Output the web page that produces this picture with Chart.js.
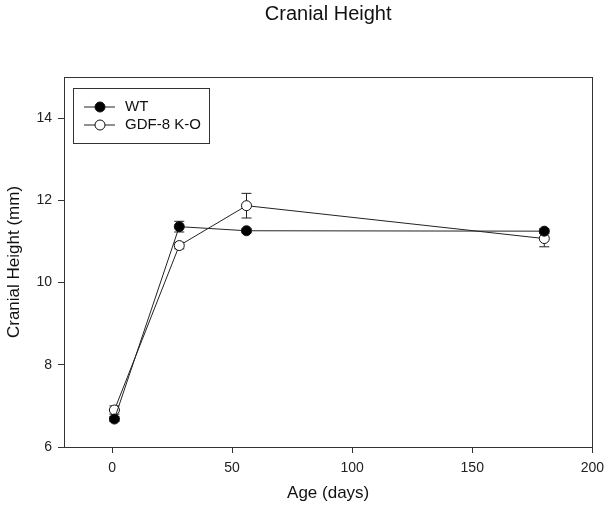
<!DOCTYPE html>
<html>
<head>
<meta charset="utf-8">
<script src="https://cdn.jsdelivr.net/npm/chart.js@4"></script>
<style>
  html, body { margin: 0; padding: 0; background: #fff; }
  #wrap { width: 611px; height: 515px; }
</style>
</head>
<body>
<div id="wrap"><canvas id="myChart"></canvas></div>
<script>
var ctx = document.getElementById("myChart").getContext('2d');

const ages = [1, 28, 56, 180];
const wtMean = [6.68, 11.36, 11.26, 11.25];
const wtErr = [0.06, 0.13, 0.05, 0.06];
const koMean = [6.9, 10.9, 11.87, 11.07];
const koErr = [0.1, 0.08, 0.3, 0.2];
const xTicks = [0, 50, 100, 150, 200];
const yTicks = [6, 8, 10, 12, 14];

const FONT = "'Liberation Sans', Arial, sans-serif";

function toPoints(xs, ys) {
  return xs.map((x, i) => ({x: x, y: ys[i]}));
}

// error bars, drawn under the markers
const errorBars = {
  id: 'errorBars',
  beforeDatasetsDraw(chart) {
    const c = chart.ctx, xs = chart.scales.x, ys = chart.scales.y;
    [wtErr, koErr].forEach((errs, d) => {
      const pts = chart.data.datasets[d].data;
      c.save();
      c.strokeStyle = '#222';
      c.lineWidth = 1;
      pts.forEach((p, i) => {
        const px = xs.getPixelForValue(p.x);
        const y1 = ys.getPixelForValue(p.y + errs[i]);
        const y2 = ys.getPixelForValue(p.y - errs[i]);
        c.beginPath();
        c.moveTo(px, y1); c.lineTo(px, y2);
        c.moveTo(px - 5, y1); c.lineTo(px + 5, y1);
        c.moveTo(px - 5, y2); c.lineTo(px + 5, y2);
        c.stroke();
      });
      c.restore();
    });
  }
};

// plot frame and the boxed legend
const frameAndLegend = {
  id: 'frameAndLegend',
  afterDraw(chart) {
    const c = chart.ctx, a = chart.chartArea;
    c.save();
    c.strokeStyle = '#333';
    c.lineWidth = 1;
    c.strokeRect(Math.round(a.left) + 0.5, Math.round(a.top) + 0.5,
                 Math.round(a.right - a.left), Math.round(a.bottom - a.top));

    // legend box
    c.strokeRect(73.5, 88.5, 136, 55);
    c.font = '15px ' + FONT;
    c.textBaseline = 'middle';
    chart.data.datasets.forEach((ds, i) => {
      const y = 107 + i * 18;
      c.beginPath();
      c.moveTo(84, y); c.lineTo(115, y);
      c.strokeStyle = '#222';
      c.stroke();
      c.beginPath();
      c.arc(100, y, 5, 0, Math.PI * 2);
      c.fillStyle = ds.pointBackgroundColor;
      c.fill();
      c.strokeStyle = '#111';
      c.stroke();
      c.fillStyle = '#111';
      c.fillText(ds.label, 125, y);
    });
    c.restore();
  }
};

const data = {
  datasets: [{
    label: 'WT',
    data: toPoints(ages, wtMean),
    borderColor: '#222',
    borderWidth: 1,
    pointRadius: 5,
    pointBackgroundColor: '#000',
    pointBorderColor: '#111',
    pointBorderWidth: 1,
    showLine: true,
    tension: 0
  }, {
    label: 'GDF-8 K-O',
    data: toPoints(ages, koMean),
    borderColor: '#222',
    borderWidth: 1,
    pointRadius: 5,
    pointBackgroundColor: '#fff',
    pointBorderColor: '#111',
    pointBorderWidth: 1,
    showLine: true,
    tension: 0
  }]
};

const config = {
  type: 'scatter',
  data,
  options: {
    responsive: true,
    maintainAspectRatio: false,
    animation: false,
    layout: { padding: { left: 0, right: 16, top: 0, bottom: 0 } },
    plugins: {
      legend: { display: false },
      tooltip: { enabled: false },
      title: {
        display: true,
        fullSize: false,
        text: 'Cranial Height',
        color: '#111',
        font: { family: FONT, size: 20, weight: 'normal' },
        padding: { top: 2, bottom: 51 }
      }
    },
    scales: {
      x: {
        type: 'linear',
        min: -20,
        max: 200,
        afterBuildTicks: (s) => { s.ticks = xTicks.map(v => ({value: v})); },
        afterFit: (s) => { s.height = 68; },
        grid: { drawOnChartArea: false, tickLength: 6, color: '#333' },
        border: { display: false },
        ticks: { color: '#222', padding: 7, maxRotation: 0, font: { family: FONT, size: 14 } },
        title: {
          display: true,
          text: 'Age (days)',
          color: '#111',
          font: { family: FONT, size: 17 },
          padding: { bottom: 11 }
        }
      },
      y: {
        type: 'linear',
        min: 6,
        max: 15,
        afterBuildTicks: (s) => { s.ticks = yTicks.map(v => ({value: v})); },
        afterFit: (s) => { s.width = 64; },
        grid: { drawOnChartArea: false, tickLength: 6, color: '#333' },
        border: { display: false },
        ticks: { color: '#222', padding: 6, font: { family: FONT, size: 14 } },
        title: {
          display: true,
          text: 'Cranial Height (mm)',
          color: '#111',
          font: { family: FONT, size: 17 },
          padding: { top: 4 }
        }
      }
    }
  },
  plugins: [errorBars, frameAndLegend]
};

var myChart = new Chart(ctx, config);
</script>
</body>
</html>
